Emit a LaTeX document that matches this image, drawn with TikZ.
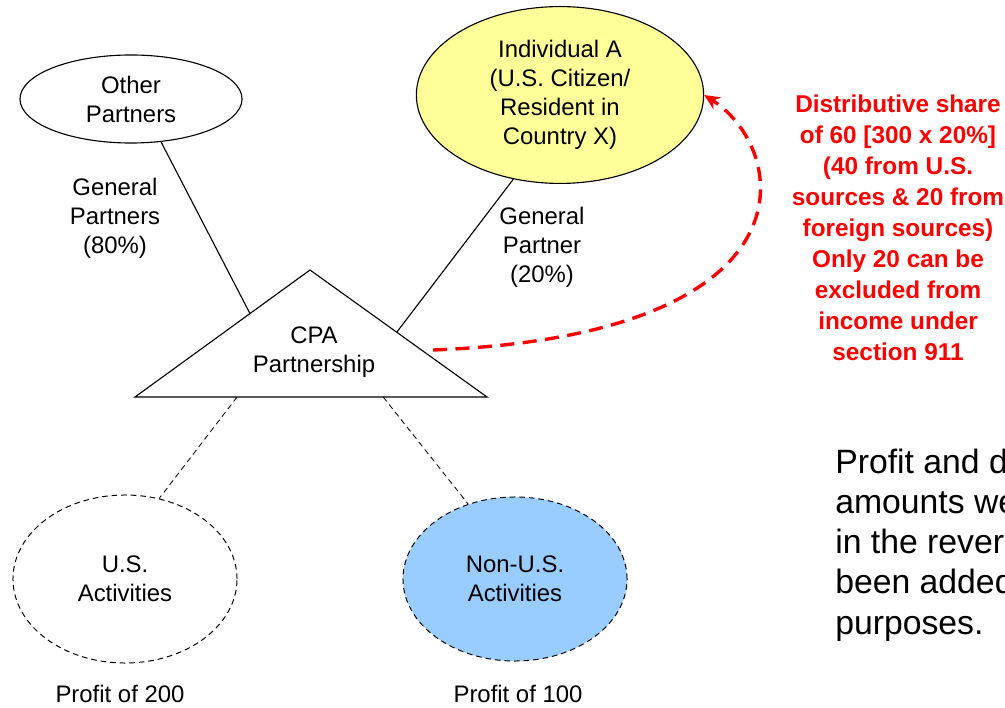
\documentclass[tikz,border=0pt]{standalone}
\usepackage{fontspec}
\setmainfont{Liberation Sans}
\usepackage{xcolor}
\usepackage{tikz}
\usetikzlibrary{calc}
\usetikzlibrary{shapes.geometric}
\usetikzlibrary{arrows.meta}
\definecolor{paleyellow}{RGB}{255,255,153}
\definecolor{paleblue}{RGB}{153,204,255}
\tikzstyle{partner} = [draw=black, ellipse, line width=0.8pt, inner sep=0pt,
align=center, font=\fontsize{17}{20.6}\selectfont]
\tikzstyle{activity} = [partner, line width=0.7pt, dash pattern=on 4pt off 2.8pt]
\tikzstyle{share} = [align=center, font=\fontsize{17}{20.6}\selectfont]
\tikzstyle{redtext} = [align=center, text=red, font=\fontsize{17.3}{22}\selectfont\bfseries]
\tikzstyle{link} = [draw=black, line width=0.8pt]
\tikzstyle{dashlink} = [draw=black, line width=0.6pt, dash pattern=on 4pt off 2.8pt]

\begin{document}
\begin{tikzpicture}[x=0.025cm, y=-0.025cm]
    \useasboundingbox (0,0) rectangle (1005,708);
    \clip (0,0) rectangle (1005,708);
    \node [partner, minimum width=5.55cm, minimum height=2.2cm] (other) at (131,99)
        {Other\\Partners};
    \node [partner, fill=paleyellow, minimum width=7.18cm, minimum height=4.42cm] (indiv) at (560,95)
        {Individual A\\(U.S. Citizen/\\Resident in\\Country X)};
    \coordinate (apex) at (310,270);
    \coordinate (bl) at (135,397);
    \coordinate (br) at (487,397);
    \draw [link] (apex) -- (bl) -- (br) -- cycle;
    \node [share] (cpa) at (314,352) {CPA\\Partnership};
    \node [activity, minimum width=5.6cm, minimum height=4.2cm] (us) at (125,579)
        {U.S.\\Activities};
    \node [activity, fill=paleblue, minimum width=5.6cm, minimum height=4.1cm] (nonus) at (515,579)
        {Non-U.S.\\Activities};
    \node [share] (gp80) at (115,218) {General\\Partners\\(80\%)};
    \node [share] (gp20) at (542,247) {General\\Partner\\(20\%)};
    \node [share] (profit200) at (120,694) {Profit of 200};
    \node [share] (profit100) at (518,694) {Profit of 100};
    \node [redtext] (note) at (898,228) {Distributive share\\of 60 [300 x 20\%]\\(40 from U.S.\\sources \& 20 from\\foreign sources)\\Only 20 can be\\excluded from\\income under\\section 911};
    \node [anchor=north west, align=left, inner sep=0pt, font=\fontsize{24}{28.5}\selectfont] (remark) at (835,449)
        {Profit and d\\amounts we\\in the rever\\been added\\purposes.};
    \coordinate (leftside) at ($(apex)!0.343!(bl)$);
    \coordinate (rightside) at ($(apex)!0.49!(br)$);
    \coordinate (baseleft) at ($(bl)!0.29!(br)$);
    \coordinate (baseright) at ($(bl)!0.705!(br)$);
    \coordinate (flowstart) at (433,350);
    \draw [link] (other.-55) -- (leftside);
    \draw [link] (indiv.-119) -- (rightside);
    \draw [dashlink] (baseleft) -- (us.67);
    \draw [dashlink] (baseright) -- (nonus.122);
    \draw [red, line width=2.4pt, dash pattern=on 10pt off 6pt, -{Stealth[length=11pt, width=10pt]}]
        (flowstart) .. controls (820,335) and (790,150) .. (indiv.east);
\end{tikzpicture}
\end{document}
